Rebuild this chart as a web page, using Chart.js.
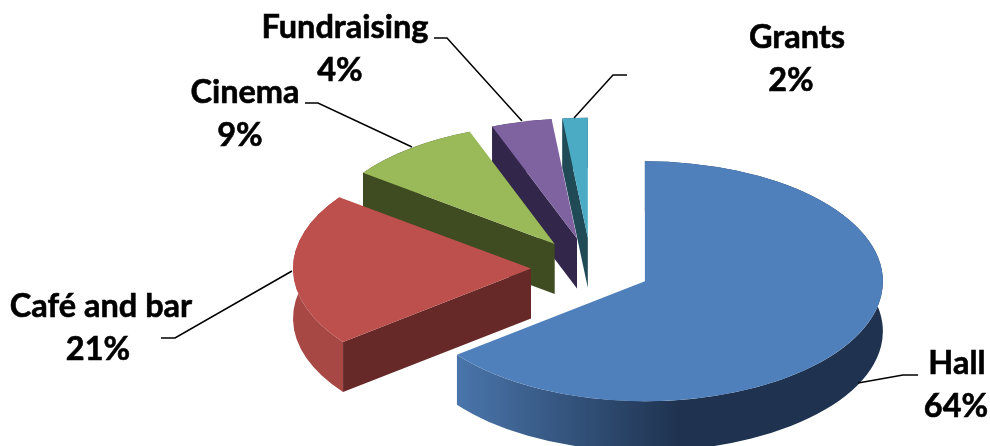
<!DOCTYPE html>
<html>
<head>
<meta charset="utf-8">
<title>Income by source</title>
<style>
  html, body { margin: 0; padding: 0; background: #fff; }
  #wrap { width: 990px; height: 446px; }
</style>
<script src="https://cdn.jsdelivr.net/npm/chart.js@4/dist/chart.umd.min.js"></script>
</head>
<body>
<div id="wrap"><canvas id="chartIncome" width="990" height="446"></canvas></div>
<script>
const categories = ["Hall", "Café and bar", "Cinema", "Fundraising", "Grants"];
// the labels show them rounded
const shares = [64.49, 20.61, 9.1, 4.1, 1.7];

const topColors = ["#4f80bb", "#bd4f4c", "#9aba59", "#7f63a1", "#4babc5"];
const faceColors = ["#1f3350", "#672928", "#3f4b21", "#32274a", "#1f4a56"];
const wallLight = ["#4a76ac", "#a84845", "#5f7035", "#4c3b61", "#2d6776"];
const wallDark = ["#1f3350", "#983f3c", "#3f4b21", "#32274a", "#1f4a56"];

// look of the tilted pie
const CENTER_X = 591;
const CENTER_Y = 268;
const RADIUS = 238;
const SQUASH = 0.504;
const EXPLODE = 60;
const DEPTH = 50;

// label text centre + leader line per category
const labelSpots = [
  { x: 957, y: 364, pctX: 956, line: [[918, 375], [903, 375], [858, 383]] },
  { x: 101, y: 307, pctX: 98, line: [[161, 338], [175, 338], [292, 271]] },
  { x: 245, y: 93, pctX: 240, line: [[305, 103], [318, 103], [412, 147]] },
  { x: 345, y: 28, pctX: 340, line: [[434, 38], [447, 38], [522, 121]] },
  { x: 797, y: 38, pctX: 791, line: [[627, 75], [613, 75], [574, 118]] },
];

const tiltedPie = {
  id: "tiltedPie",
  beforeDatasetsDraw(chart) {
    const ctx = chart.ctx;
    const arcs = chart.getDatasetMeta(0).data;
    // back to front: the small slices sit behind the big ones
    const order = arcs.map((a, i) => i).reverse();
    const Ry = RADIUS * SQUASH;

    const apex = arc => {
      const mid = (arc.startAngle + arc.endAngle) / 2;
      return {
        x: CENTER_X + Math.cos(mid) * EXPLODE,
        y: CENTER_Y + Math.sin(mid) * EXPLODE * SQUASH,
      };
    };

    order.forEach(i => {
      const arc = arcs[i];
      const a = apex(arc);
      const s = arc.startAngle;
      const e = arc.endAngle;

      // outer wall
      const grad = ctx.createLinearGradient(a.x - RADIUS, 0, a.x + RADIUS, 0);
      grad.addColorStop(0.1, wallLight[i]);
      grad.addColorStop(0.57, wallDark[i]);
      ctx.fillStyle = grad;
      ctx.beginPath();
      ctx.ellipse(a.x, a.y, RADIUS, Ry, 0, s, e);
      ctx.ellipse(a.x, a.y + DEPTH, RADIUS, Ry, 0, e, s, true);
      ctx.closePath();
      ctx.fill();

      // cut face on the start edge
      const ex = a.x + Math.cos(s) * RADIUS;
      const ey = a.y + Math.sin(s) * Ry;
      ctx.fillStyle = faceColors[i];
      ctx.beginPath();
      ctx.moveTo(a.x, a.y);
      ctx.lineTo(ex, ey);
      ctx.lineTo(ex, ey + DEPTH);
      ctx.lineTo(a.x, a.y + DEPTH);
      ctx.closePath();
      ctx.fill();
    });

    // top faces, drawn by the arc elements themselves
    order.forEach(i => {
      const arc = arcs[i];
      const a = apex(arc);
      ctx.save();
      ctx.translate(a.x, a.y);
      ctx.scale(1, SQUASH);
      ctx.translate(-arc.x, -arc.y);
      arc.draw(ctx);
      ctx.restore();
    });
    return false;
  },
  afterDraw(chart) {
    const ctx = chart.ctx;
    ctx.save();
    ctx.strokeStyle = "#000";
    ctx.lineWidth = 1.5;
    labelSpots.forEach(spot => {
      ctx.beginPath();
      spot.line.forEach((p, n) => (n ? ctx.lineTo(p[0], p[1]) : ctx.moveTo(p[0], p[1])));
      ctx.stroke();
    });
    ctx.fillStyle = "#000";
    ctx.lineWidth = 0.6;
    ctx.font = "bold 32.5px Lato";
    ctx.textAlign = "center";
    ctx.textBaseline = "middle";
    categories.forEach((name, i) => {
      const spot = labelSpots[i];
      const pct = Math.round(shares[i]) + "%";
      ctx.fillText(name, spot.x, spot.y);
      ctx.strokeText(name, spot.x, spot.y);
      ctx.fillText(pct, spot.pctX, spot.y + 43);
      ctx.strokeText(pct, spot.pctX, spot.y + 43);
    });
    ctx.restore();
  },
};

new Chart(document.getElementById("chartIncome"), {
  type: "pie",
  data: {
    labels: categories,
    datasets: [
      {
        data: shares,
        backgroundColor: topColors,
        borderWidth: 0,
      },
    ],
  },
  options: {
    responsive: false,
    animation: false,
    events: [],
    radius: RADIUS,
    plugins: {
      legend: { display: false },
      tooltip: { enabled: false },
    },
  },
  plugins: [tiltedPie],
});
</script>
</body>
</html>
